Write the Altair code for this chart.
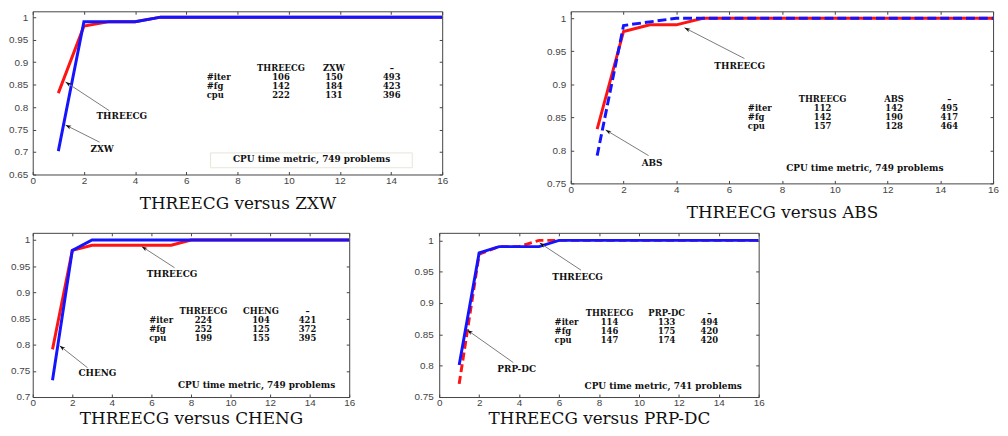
import math
import altair as alt
import pandas as pd

# ------------------------------------------------------------------ data
XTICKS = [0, 2, 4, 6, 8, 10, 12, 14, 16]

# Panel 1 : THREECG versus ZXW
P1_THREECG_X = [1, 2, 3, 4, 5, 16]
P1_THREECG_Y = [0.831, 0.980, 0.990, 0.990, 1.0, 1.0]
P1_ZXW_X = [1, 2, 3, 4, 5, 16]
P1_ZXW_Y = [0.702, 0.990, 0.990, 0.990, 1.0, 1.0]
P1_HEAD = ["THREECG", "ZXW", "–"]
P1_ITER = [106, 150, 493]
P1_FG = [142, 184, 423]
P1_CPU = [222, 131, 396]

# Panel 2 : THREECG versus ABS
P2_THREECG_X = [1, 2, 3, 4, 5, 16]
P2_THREECG_Y = [0.832, 0.980, 0.990, 0.990, 1.0, 1.0]
P2_ABS_X = [1, 2, 4, 16]
P2_ABS_Y = [0.792, 0.989, 1.0, 1.0]
P2_HEAD = ["THREECG", "ABS", "–"]
P2_ITER = [112, 142, 495]
P2_FG = [142, 190, 417]
P2_CPU = [157, 128, 464]

# Panel 3 : THREECG versus CHENG
P3_THREECG_X = [1, 2, 3, 7, 8, 16]
P3_THREECG_Y = [0.791, 0.980, 0.990, 0.990, 1.0, 1.0]
P3_CHENG_X = [1, 2, 3, 16]
P3_CHENG_Y = [0.732, 0.980, 1.0, 1.0]
P3_HEAD = ["THREECG", "CHENG", "–"]
P3_ITER = [224, 104, 421]
P3_FG = [252, 125, 372]
P3_CPU = [199, 155, 395]

# Panel 4 : THREECG versus PRP-DC
P4_THREECG_X = [1, 2, 3, 4, 5, 16]
P4_THREECG_Y = [0.771, 0.978, 0.990, 0.990, 1.0, 1.0]
P4_PRPDC_X = [1, 2, 3, 5, 6, 16]
P4_PRPDC_Y = [0.801, 0.980, 0.990, 0.990, 1.0, 1.0]
P4_HEAD = ["THREECG", "PRP-DC", "–"]
P4_ITER = [114, 133, 494]
P4_FG = [146, 175, 420]
P4_CPU = [147, 174, 420]

ROW_NAMES = ["#iter", "#fg", "cpu"]
NOTE_749 = "CPU time metric, 749 problems"
NOTE_741 = "CPU time metric, 741 problems"

# ------------------------------------------------------------------ style
RED = "#ff1414"
BLUE = "#1414ff"
FRAME = "#444444"
LABEL_FONT = "Liberation Sans"
SERIF = "DejaVu Serif"
ANN_SIZE = 9
TAB_SIZE = 8.5
ROW_PITCH = 9.2  # px between table rows


def make_panel(cfg):
    W, H = cfg["w"], cfg["h"]
    ymin, ymax = cfg["ydom"]
    xscale = alt.Scale(domain=[0, 16], nice=False, zero=False)
    yscale = alt.Scale(domain=[ymin, ymax], nice=False, zero=False)

    ax_bottom = alt.Axis(orient="bottom", values=XTICKS, offset=-3, tickSize=3,
                         domain=False, grid=False, labelPadding=1,
                         labelFlush=False, labelOverlap=False,
                         labelFont=LABEL_FONT, labelFontSize=10, labelColor="#444",
                         tickColor=FRAME, title=cfg["title"], titleFont=SERIF,
                         titleFontSize=17, titleFontWeight="normal",
                         titleColor="#111", titlePadding=cfg["tp"])
    ax_left = alt.Axis(orient="left", values=cfg["yticks"], offset=-3, tickSize=3,
                       domain=False, grid=False, labelPadding=cfg["ylp"],
                       labelOverlap=False, format="~g",
                       labelFont=LABEL_FONT, labelFontSize=10, labelColor="#444",
                       tickColor=FRAME, title=None)
    ax_top = alt.Axis(orient="top", values=XTICKS, offset=-3, tickSize=3,
                      domain=False, grid=False, labels=False, tickColor=FRAME,
                      title=None)
    ax_right = alt.Axis(orient="right", values=cfg["yticks"], offset=-3, tickSize=3,
                        domain=False, grid=False, labels=False, tickColor=FRAME,
                        title=None)

    layers = []
    if cfg.get("box"):
        bx0, bx1, by0, by1 = cfg["box"]
        bdf = pd.DataFrame({"x": [bx0], "x2": [bx1], "y": [by0], "y2": [by1]})
        layers.append(alt.Chart(bdf).mark_rect(fillOpacity=0, stroke="#e6e6d6",
                                               strokeWidth=1).encode(
            x=alt.X("x:Q", scale=xscale, axis=None), x2="x2:Q",
            y=alt.Y("y:Q", scale=yscale, axis=None), y2="y2:Q"))

    for i, s in enumerate(cfg["series"]):
        df = pd.DataFrame({"x": s["x"], "y": s["y"]})
        if i == 0:
            axx, axy = ax_bottom, ax_left
        else:
            axx, axy = ax_top, ax_right
        kw = dict(color=s["color"], strokeWidth=3, strokeCap="butt", clip=True)
        if s.get("dash"):
            kw["strokeDash"] = s["dash"]
        layers.append(alt.Chart(df).mark_line(**kw).encode(
            x=alt.X("x:Q", scale=xscale, axis=axx),
            y=alt.Y("y:Q", scale=yscale, axis=axy)))

    # annotation arrows and labels
    sx = W / 16.0
    sy = H / (ymax - ymin)
    rows = []
    for a in cfg["ann"]:
        (lx, ly), (tx, ty), (hx, hy), lab = a
        dx = (hx - tx) * sx
        dy = -(hy - ty) * sy
        ang = math.degrees(math.atan2(dx, -dy)) % 360
        rows.append(dict(lx=lx, ly=ly, tx=tx, ty=ty, hx=hx, hy=hy, label=lab, ang=ang))
    adf = pd.DataFrame(rows)
    layers.append(alt.Chart(adf).mark_rule(color="#7a7a7a", strokeWidth=1).encode(
        x=alt.X("tx:Q", scale=xscale, axis=None), y=alt.Y("ty:Q", scale=yscale, axis=None),
        x2="hx:Q", y2="hy:Q"))
    layers.append(alt.Chart(adf).mark_point(
        shape="M0,0L0.75,2.2L0,1.6L-0.75,2.2Z", filled=True, color="#111",
        size=28, opacity=1).encode(
        x=alt.X("hx:Q", scale=xscale, axis=None), y=alt.Y("hy:Q", scale=yscale, axis=None),
        angle=alt.Angle("ang:Q", scale=None)))
    layers.append(alt.Chart(adf).mark_text(font=SERIF, fontWeight="bold",
                                           fontSize=ANN_SIZE, color="#111").encode(
        x=alt.X("lx:Q", scale=xscale, axis=None), y=alt.Y("ly:Q", scale=yscale, axis=None),
        text="label:N"))

    # statistics table (rows spaced ROW_PITCH px around the measured centre)
    rowx, colx, ycen = cfg["table"]
    pitch = ROW_PITCH / sy
    ty_ = [ycen + (1.5 - k) * pitch for k in range(4)]
    cells = []
    for j, h in enumerate(cfg["head"]):
        cells.append(dict(x=colx[j], y=ty_[0], t=h))
    for r, vals in enumerate(cfg["vals"]):
        for j, v in enumerate(vals):
            cells.append(dict(x=colx[j], y=ty_[r + 1], t=str(v)))
    cdf = pd.DataFrame(cells)
    ndf = pd.DataFrame([dict(x=rowx, y=ty_[r + 1], t=n) for r, n in enumerate(ROW_NAMES)])
    layers.append(alt.Chart(cdf).mark_text(font=SERIF, fontWeight="bold",
                                           fontSize=TAB_SIZE, color="#111").encode(
        x=alt.X("x:Q", scale=xscale, axis=None), y=alt.Y("y:Q", scale=yscale, axis=None),
        text="t:N"))
    layers.append(alt.Chart(ndf).mark_text(font=SERIF, fontWeight="bold", align="left",
                                           fontSize=TAB_SIZE, color="#111").encode(
        x=alt.X("x:Q", scale=xscale, axis=None), y=alt.Y("y:Q", scale=yscale, axis=None),
        text="t:N"))

    nx, ny, ntext = cfg["note"]
    notedf = pd.DataFrame({"x": [nx], "y": [ny], "t": [ntext]})
    layers.append(alt.Chart(notedf).mark_text(font=SERIF, fontWeight="bold",
                                              fontSize=ANN_SIZE, color="#111").encode(
        x=alt.X("x:Q", scale=xscale, axis=None), y=alt.Y("y:Q", scale=yscale, axis=None),
        text="t:N"))

    return alt.layer(*layers).properties(width=W, height=H).resolve_axis(
        x="independent", y="independent")


P1 = dict(
    w=414, h=165, ydom=(0.65, 1.013), tp=10, ylp=5,
    yticks=[0.65, 0.7, 0.75, 0.8, 0.85, 0.9, 0.95, 1.0],
    title="THREECG versus ZXW",
    series=[dict(x=P1_THREECG_X, y=P1_THREECG_Y, color=RED),
            dict(x=P1_ZXW_X, y=P1_ZXW_Y, color=BLUE)],
    ann=[((3.48, 0.780), (2.99, 0.792), (1.28, 0.856), "THREECG"),
         ((2.71, 0.706), (2.61, 0.722), (1.28, 0.760), "ZXW")],
    head=P1_HEAD, vals=[P1_ITER, P1_FG, P1_CPU],
    table=(6.8, [9.70, 11.77, 14.03], 0.8565),
    note=(10.9, 0.684, NOTE_749),
    box=(6.95, 14.83, 0.665, 0.698),
)

P2 = dict(
    w=427, h=174, ydom=(0.75, 1.0105), tp=10, ylp=5,
    yticks=[0.75, 0.8, 0.85, 0.9, 0.95, 1.0],
    title="THREECG versus ABS",
    series=[dict(x=P2_THREECG_X, y=P2_THREECG_Y, color=RED),
            dict(x=P2_ABS_X, y=P2_ABS_Y, color=BLUE, dash=[9, 4])],
    ann=[((6.4, 0.928), (6.58, 0.939), (4.31, 0.9856), "THREECG"),
         ((3.08, 0.781), (2.95, 0.792), (1.32, 0.831), "ABS")],
    head=P2_HEAD, vals=[P2_ITER, P2_FG, P2_CPU],
    table=(6.71, [9.54, 12.25, 14.34], 0.857),
    note=(11.14, 0.774, NOTE_749),
)

P3 = dict(
    w=320, h=166, ydom=(0.7, 1.0136), tp=3, ylp=3,
    yticks=[0.7, 0.75, 0.8, 0.85, 0.9, 0.95, 1.0],
    title="THREECG versus CHENG",
    series=[dict(x=P3_THREECG_X, y=P3_THREECG_Y, color=RED),
            dict(x=P3_CHENG_X, y=P3_CHENG_Y, color=BLUE)],
    ann=[((7.04, 0.935), (7.17, 0.947), (5.51, 0.9876), "THREECG"),
         ((3.27, 0.745), (2.77, 0.756), (1.36, 0.798), "CHENG")],
    head=P3_HEAD, vals=[P3_ITER, P3_FG, P3_CPU],
    table=(5.89, [8.63, 11.54, 13.89], 0.838),
    note=(11.32, 0.722, NOTE_749),
)

P4 = dict(
    w=323, h=166, ydom=(0.75, 1.012), tp=3, ylp=6,
    yticks=[0.75, 0.8, 0.85, 0.9, 0.95, 1.0],
    title="THREECG versus PRP-DC",
    series=[dict(x=P4_THREECG_X, y=P4_THREECG_Y, color=RED, dash=[8, 4]),
            dict(x=P4_PRPDC_X, y=P4_PRPDC_Y, color=BLUE)],
    ann=[((6.93, 0.941), (7.1, 0.9525), (5.03, 0.996), "THREECG"),
         ((3.88, 0.795), (3.71, 0.805), (1.40, 0.857), "PRP-DC")],
    head=P4_HEAD, vals=[P4_ITER, P4_FG, P4_CPU],
    table=(5.78, [8.53, 11.39, 13.53], 0.8625),
    note=(11.22, 0.768, NOTE_741),
)

row1 = alt.hconcat(make_panel(P1), make_panel(P2), spacing=98)
row2 = alt.hconcat(make_panel(P3), make_panel(P4), spacing=58)

chart = alt.vconcat(row1, row2, spacing=11).properties(
    padding=0, background="white"
).configure_view(stroke=FRAME, strokeWidth=1)

chart.save("out.html", embed_options={"renderer": "svg", "actions": False})
